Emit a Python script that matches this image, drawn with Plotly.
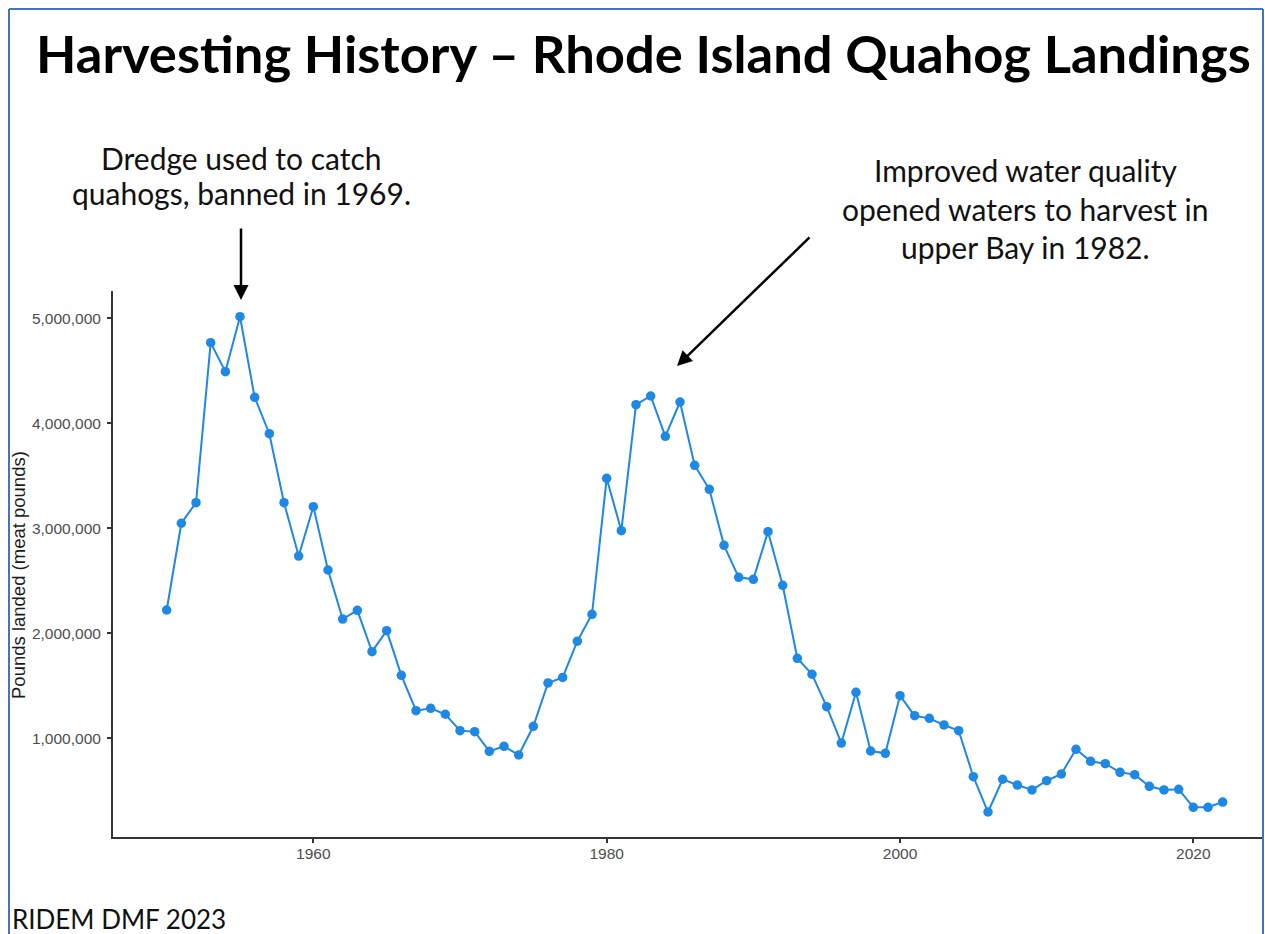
import plotly.graph_objects as go

# Rhode Island quahog landings (meat pounds), 1950-2022
years = list(range(1950, 2023))
landings = [
    2222000, 3048000, 3244000, 4768000, 4492000, 5015000, 4247000, 3901000, 3244000, 2736000,  # 1950s
    3206000, 2603000, 2136000, 2219000, 1825000, 2025000, 1600000, 1263000, 1286000, 1229000,  # 1960s
    1073000, 1063000, 876000, 924000, 841000, 1114000, 1527000, 1580000, 1925000, 2181000,     # 1970s
    3476000, 2977000, 4177000, 4260000, 3876000, 4203000, 3600000, 3371000, 2838000, 2533000,  # 1980s
    2514000, 2968000, 2457000, 1762000, 1610000, 1301000, 955000, 1438000, 879000, 857000,     # 1990s
    1406000, 1215000, 1190000, 1127000, 1073000, 634000, 298000, 610000, 555000, 508000,      # 2000s
    596000, 660000, 895000, 781000, 758000, 676000, 654000, 543000, 508000, 514000,          # 2010s
    343000, 343000, 393000,                                                                  # 2020s
]

x_ticks = [1960, 1980, 2000, 2020]
y_ticks = [1000000, 2000000, 3000000, 4000000, 5000000]

title_text = "Harvesting History \u2013 Rhode Island Quahog Landings"
note_dredge = ["Dredge used to catch", "quahogs, banned in 1969."]
note_water = ["Improved water quality", "opened waters to harvest in", "upper Bay in 1982."]
source_text = "RIDEM DMF 2023"
y_title = "Pounds landed (meat pounds)"

W, H = 1265, 934
M_L, M_R, M_T, M_B = 113, 2, 291, 97
PLOT_W = W - M_L - M_R
PLOT_H = H - M_T - M_B


def px(xp):
    """Horizontal page pixel -> paper fraction."""
    return (xp - M_L) / PLOT_W


def py(yp):
    """Vertical page pixel (from top) -> paper fraction."""
    return (H - M_B - yp) / PLOT_H


BLUE = "#1E88E5"
AXIS = "#333333"
TICK_TXT = "#4D4D4D"
SLIDE_FONT = "Lato"
PLOT_FONT = "Liberation Sans, Arial, sans-serif"

fig = go.Figure()
fig.add_trace(go.Scatter(
    x=years, y=landings, mode="lines+markers",
    line=dict(color=BLUE, width=2),
    marker=dict(color=BLUE, size=9.5),
    hoverinfo="x+y", cliponaxis=False,
))

fig.update_layout(
    width=W, height=H,
    margin=dict(l=M_L, r=M_R, t=M_T, b=M_B, pad=0),
    paper_bgcolor="white", plot_bgcolor="white",
    showlegend=False,
    xaxis=dict(
        range=[1946.34, 2024.75], tickvals=x_ticks, ticktext=[str(v) for v in x_ticks],
        showgrid=False, zeroline=False, showline=True, linecolor=AXIS, linewidth=2,
        ticks="outside", ticklen=4, tickwidth=1.5, tickcolor=AXIS,
        tickfont=dict(family=PLOT_FONT, size=15.5, color=TICK_TXT),
        ticklabelstandoff=-3,
    ),
    yaxis=dict(
        range=[60000, 5260000], tickvals=y_ticks, tickformat=",d",
        showgrid=False, zeroline=False, showline=True, linecolor=AXIS, linewidth=2,
        ticks="outside", ticklen=4, tickwidth=1.5, tickcolor=AXIS,
        tickfont=dict(family=PLOT_FONT, size=15.5, color=TICK_TXT),
        ticklabelstandoff=3,
    ),
)

slide_txt = dict(family=SLIDE_FONT, size=30, color="#111111")
annotations = [
    dict(text="<b>" + title_text + "</b>", x=px(643), y=py(52), xanchor="center", yanchor="middle",
         font=dict(family=SLIDE_FONT, size=52.5, color="black")),
    dict(text=source_text, x=px(10), y=py(919), xanchor="left", yanchor="middle",
         font=dict(family=SLIDE_FONT, size=26, color="#111111")),
    dict(text=y_title, x=px(18), y=py(575), xanchor="center", yanchor="middle", textangle=-90,
         font=dict(family=PLOT_FONT, size=18.5, color="#1a1a1a")),
    # arrows pointing at the two peaks
    dict(text="", x=px(241), y=py(300), ax=0, ay=-73, showarrow=True,
         arrowhead=2, arrowsize=1.2, arrowwidth=2.5, arrowcolor="black", standoff=0),
    dict(text="", x=px(677), y=py(366), ax=134, ay=-130, showarrow=True,
         arrowhead=2, arrowsize=1.2, arrowwidth=2.5, arrowcolor="black", standoff=0),
]
# callout text, one annotation per line
for line, yc in zip(note_dredge, [158, 193]):
    annotations.append(dict(text=line, x=px(241), y=py(yc), xanchor="center", yanchor="middle",
                            font=slide_txt))
for line, yc in zip(note_water, [170, 209, 247]):
    annotations.append(dict(text=line, x=px(1025), y=py(yc), xanchor="center", yanchor="middle",
                            font=slide_txt))

for a in annotations:
    a.setdefault("showarrow", False)
    a["xref"] = "paper"
    a["yref"] = "paper"
fig.update_layout(annotations=annotations)

# slide frame
frame = dict(type="line", xref="paper", yref="paper", line=dict(color="#4472C4", width=2))
fig.add_shape(**frame, x0=px(9), x1=px(9), y0=py(9), y1=py(H + 5))
fig.add_shape(**frame, x0=px(9), x1=px(1263), y0=py(9), y1=py(9))
fig.add_shape(**frame, x0=px(1263), x1=px(1263), y0=py(9), y1=py(H + 5))

fig.write_html("out.html")
